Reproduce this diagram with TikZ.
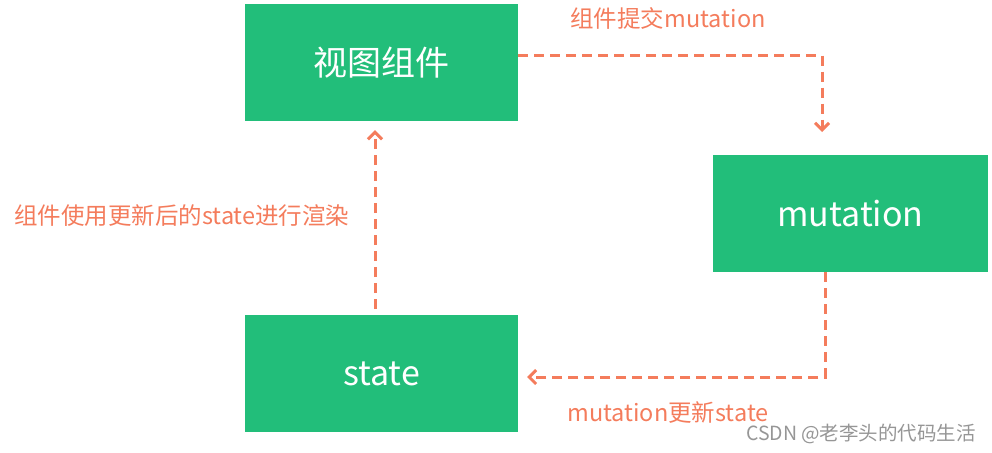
\documentclass[tikz,border=0pt]{standalone}
\usepackage{fontspec}
\newfontfamily\cjk{Noto Sans CJK SC}
\usetikzlibrary{positioning,arrows.meta}

\definecolor{boxgreen}{RGB}{34,190,122}
\definecolor{flowred}{RGB}{244,124,92}
\definecolor{markgray}{RGB}{150,150,150}

\begin{document}
\begin{tikzpicture}[
x=1pt,
y=-1pt,
box/.style={
fill=boxgreen,
text=white,
minimum width=273pt,
minimum height=117pt,
align=center,
font=\cjk\fontsize{34}{40}\selectfont
},
flow/.style={
-{Straight Barb[length=7pt,width=14pt,line width=3pt]},
draw=flowred,
line width=3pt,
dash pattern=on 10pt off 6pt
},
tag/.style={
text=flowred,
font=\cjk\fontsize{23.5}{28}\selectfont
}
]

\useasboundingbox (0,0) rectangle (992,452);


% Boxes
\node[box] (view) at (381.5,62.5) {视图组件};

\node[box,below=194pt of view] (state) {state};

\node[box,minimum width=275pt] (mutation) at (850.5,213.5) {mutation};


% free ends
\coordinate (commit) at (822,132);
\coordinate (update) at (527,377);


% arrows
\draw[flow] ([yshift=7pt]view.east) -| (commit);
\draw[flow] ([xshift=-25pt]mutation.south) |- (update);
\draw[flow] ([xshift=-6.5pt,yshift=6pt]state.north) -- ([xshift=-6.5pt,yshift=-9pt]view.south);


% labels
\node[tag] (tcommit) at (668,18) {组件提交mutation};
\node[tag] (tupdate) at (668,413) {mutation更新state};
\node[tag,anchor=east] (trender) at (353,216) {组件使用更新后的state进行渲染};

\node[text=markgray,font=\cjk\fontsize{19.5}{23}\selectfont] (mark) at (861,434) {CSDN @老李头的代码生活};


\end{tikzpicture}
\end{document}
